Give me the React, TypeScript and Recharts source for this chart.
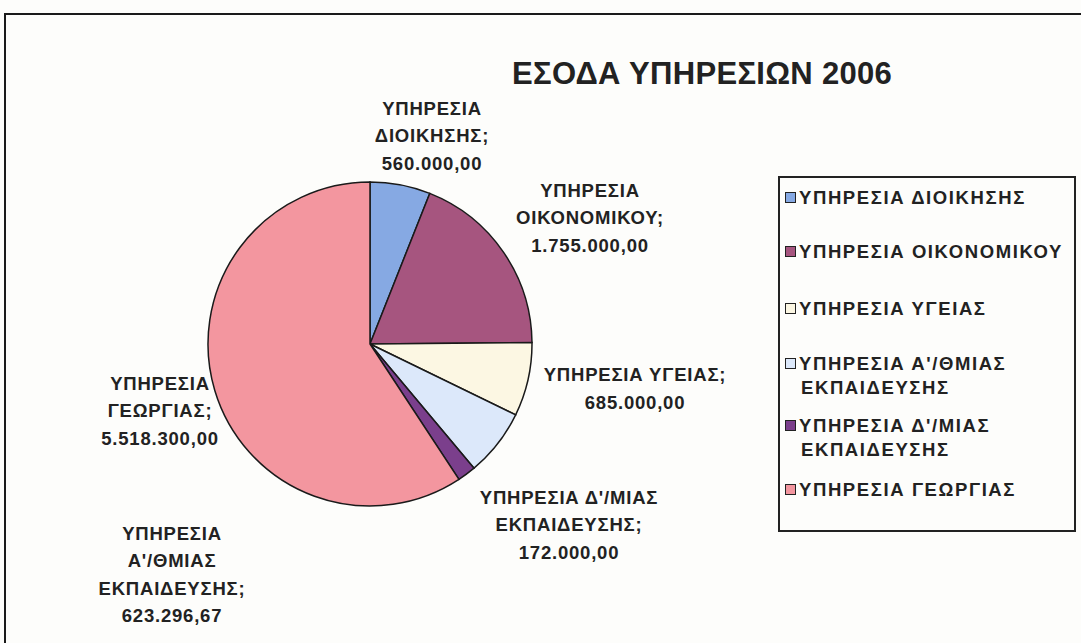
import React from 'react';
import { PieChart, Pie, Cell, Legend } from 'recharts';

// data
const services = [
  'ΥΠΗΡΕΣΙΑ ΔΙΟΙΚΗΣΗΣ',
  'ΥΠΗΡΕΣΙΑ ΟΙΚΟΝΟΜΙΚΟΥ',
  'ΥΠΗΡΕΣΙΑ ΥΓΕΙΑΣ',
  "ΥΠΗΡΕΣΙΑ Α'/ΘΜΙΑΣ ΕΚΠΑΙΔΕΥΣΗΣ",
  "ΥΠΗΡΕΣΙΑ Δ'/ΜΙΑΣ ΕΚΠΑΙΔΕΥΣΗΣ",
  'ΥΠΗΡΕΣΙΑ ΓΕΩΡΓΙΑΣ',
];
const revenue = [560000, 1755000, 685000, 623296.67, 172000, 5518300];
const revenueText = ['560.000,00', '1.755.000,00', '685.000,00', '623.296,67', '172.000,00', '5.518.300,00'];

// how each slice label breaks into lines (as in the original)
const labelLines = [
  ['ΥΠΗΡΕΣΙΑ', 'ΔΙΟΙΚΗΣΗΣ;'],
  ['ΥΠΗΡΕΣΙΑ', 'ΟΙΚΟΝΟΜΙΚΟΥ;'],
  ['ΥΠΗΡΕΣΙΑ ΥΓΕΙΑΣ;'],
  ['ΥΠΗΡΕΣΙΑ', "Α'/ΘΜΙΑΣ", 'ΕΚΠΑΙΔΕΥΣΗΣ;'],
  ["ΥΠΗΡΕΣΙΑ Δ'/ΜΙΑΣ", 'ΕΚΠΑΙΔΕΥΣΗΣ;'],
  ['ΥΠΗΡΕΣΙΑ', 'ΓΕΩΡΓΙΑΣ;'],
];
const legendLines = [
  ['ΥΠΗΡΕΣΙΑ ΔΙΟΙΚΗΣΗΣ'],
  ['ΥΠΗΡΕΣΙΑ ΟΙΚΟΝΟΜΙΚΟΥ'],
  ['ΥΠΗΡΕΣΙΑ ΥΓΕΙΑΣ'],
  ["ΥΠΗΡΕΣΙΑ Α'/ΘΜΙΑΣ", 'ΕΚΠΑΙΔΕΥΣΗΣ'],
  ["ΥΠΗΡΕΣΙΑ Δ'/ΜΙΑΣ", 'ΕΚΠΑΙΔΕΥΣΗΣ'],
  ['ΥΠΗΡΕΣΙΑ ΓΕΩΡΓΙΑΣ'],
];

const COLORS = ['#86a9e3', '#a6557f', '#fcf7e3', '#dce8fa', '#7b3f8c', '#f3969f'];
// label block centre relative to pie centre (Excel placed these by hand)
const LABEL_POS = [
  { dx: 62, dy: -209 },
  { dx: 220, dy: -127 },
  { dx: 265, dy: 44 },
  { dx: -198, dy: 230 },
  { dx: 199, dy: 180 },
  { dx: -210, dy: 66 },
];

const data = services.map((name, i) => ({ name, value: revenue[i] }));
const FONT = '"Liberation Sans", Arial, sans-serif';
const LINE_H = 27.5;

function SliceLabel(props: any) {
  const { cx, cy, index } = props;
  const lines = [...labelLines[index], revenueText[index]];
  const p = LABEL_POS[index];
  const top = cy + p.dy - ((lines.length - 1) * LINE_H) / 2;
  return (
    <text
      x={cx + p.dx}
      y={top}
      textAnchor="middle"
      dominantBaseline="central"
      fontFamily={FONT}
      fontWeight="bold"
      fontSize={18.5}
      letterSpacing={0.8}
      fill="#222"
    >
      {lines.map((l, k) => (
        <tspan key={k} x={cx + p.dx} dy={k === 0 ? 0 : LINE_H}>
          {l}
        </tspan>
      ))}
    </text>
  );
}

function LegendBox() {
  const rowTops = [8, 62, 119, 174, 236, 300];
  return (
    <div
      style={{
        position: 'relative',
        width: 298,
        height: 356,
        border: '2px solid #222',
        background: '#fdfdfb',
        fontFamily: FONT,
        fontWeight: 'bold',
        fontSize: 18.5,
        letterSpacing: 1.6,
        color: '#222',
        boxSizing: 'border-box',
        whiteSpace: 'nowrap',
      }}
    >
      {legendLines.map((lines, i) => (
        <div key={i} style={{ position: 'absolute', left: 5, top: rowTops[i], lineHeight: '24px' }}>
          <span
            style={{
              display: 'inline-block',
              width: 9,
              height: 9,
              background: COLORS[i],
              border: '1.5px solid #222',
              marginRight: 3,
              verticalAlign: 'middle',
              position: 'relative',
              top: -2,
            }}
          />
          {lines[0]}
          {lines[1] && <div style={{ paddingLeft: 16 }}>{lines[1]}</div>}
        </div>
      ))}
    </div>
  );
}

export default function App() {
  return (
    <div style={{ position: 'absolute', left: 0, top: 0, width: 1081, height: 643, background: '#fdfdfb', overflow: 'hidden' }}>
      <div
        style={{
          position: 'absolute',
          left: 4,
          top: 13,
          width: 1090,
          height: 650,
          border: '2px solid #1a1a1a',
          boxSizing: 'border-box',
        }}
      />
      <div
        style={{
          position: 'absolute',
          left: 512,
          top: 56,
          fontFamily: FONT,
          fontWeight: 'bold',
          fontSize: 31,
          letterSpacing: 0.3,
          color: '#222',
          whiteSpace: 'nowrap',
        }}
      >
        ΕΣΟΔΑ ΥΠΗΡΕΣΙΩΝ 2006
      </div>
      <PieChart
        width={1081}
        height={643}
        margin={{ top: 0, right: 0, bottom: 0, left: 0 }}
        style={{ position: 'absolute', left: 0, top: 0 }}
      >
        <Pie
          data={data}
          dataKey="value"
          nameKey="name"
          cx={370}
          cy={344}
          outerRadius={162}
          startAngle={90}
          endAngle={-270}
          stroke="#1a1a1a"
          strokeWidth={1.5}
          label={SliceLabel}
          labelLine={false}
          isAnimationActive={false}
        >
          {data.map((d, i) => (
            <Cell key={d.name} fill={COLORS[i]} />
          ))}
        </Pie>
        <Legend
          content={() => <LegendBox />}
          wrapperStyle={{ position: 'absolute', left: 778, top: 176, width: 298, height: 356 }}
        />
      </PieChart>
    </div>
  );
}
